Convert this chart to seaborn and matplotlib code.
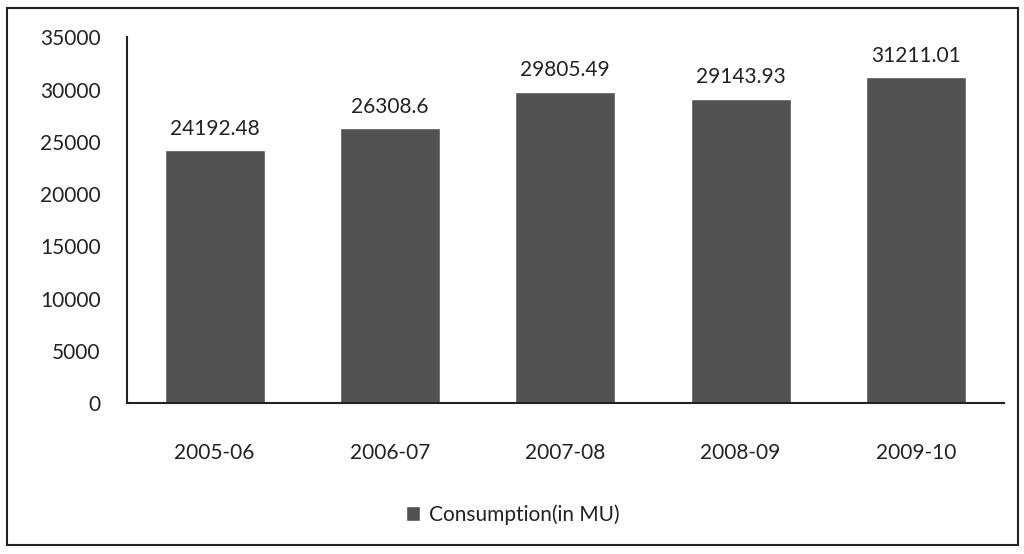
import pandas as pd
import matplotlib.pyplot as plt
import seaborn as sns
from matplotlib.patches import Rectangle

years = ['2005-06', '2006-07', '2007-08', '2008-09', '2009-10']
consumption = [24192.48, 26308.6, 29805.49, 29143.93, 31211.01]
value_labels = ['24192.48', '26308.6', '29805.49', '29143.93', '31211.01']
series_name = 'Consumption(in MU)'

df = pd.DataFrame({'Year': years, 'Consumption': consumption})

sns.set_style('white')
plt.rcParams['font.family'] = ['Lato', 'DejaVu Sans']

fig = plt.figure(figsize=(10.24, 5.54), dpi=100)
ax = fig.add_axes([0.124, 0.2726, 0.856, 0.66])

bar_color = '#525252'
sns.barplot(data=df, x='Year', y='Consumption', color=bar_color,
            width=0.57, saturation=1, ax=ax, label=series_name)

for p, txt in zip(ax.patches, value_labels):
    ax.annotate(txt, (p.get_x() + p.get_width() / 2, p.get_height()),
                xytext=(0, 8), textcoords='offset points',
                ha='center', va='bottom', fontsize=15, color='#222222')

ax.set_ylim(0, 35000)
ax.set_yticks(range(0, 35001, 5000))
ax.tick_params(axis='both', length=0, labelsize=15, colors='#222222')
ax.tick_params(axis='y', pad=19)
ax.tick_params(axis='x', pad=29)
ax.set_xlabel('')
ax.set_ylabel('')
sns.despine(ax=ax, top=True, right=True)
ax.spines['left'].set_color('#222222')
ax.spines['bottom'].set_color('#222222')
ax.spines['left'].set_linewidth(1.5)
ax.spines['bottom'].set_linewidth(1.5)

ax.legend(loc='upper center', bbox_to_anchor=(0.44, -0.225), frameon=False,
          fontsize=15, handlelength=0.7, handleheight=0.7, handletextpad=0.4,
          labelcolor='#222222')

fig.patches.append(Rectangle((0.007, 0.016), 0.987, 0.97, transform=fig.transFigure,
                             fill=False, edgecolor='#222222', linewidth=1.5))

fig.savefig('out.png', dpi=100)
